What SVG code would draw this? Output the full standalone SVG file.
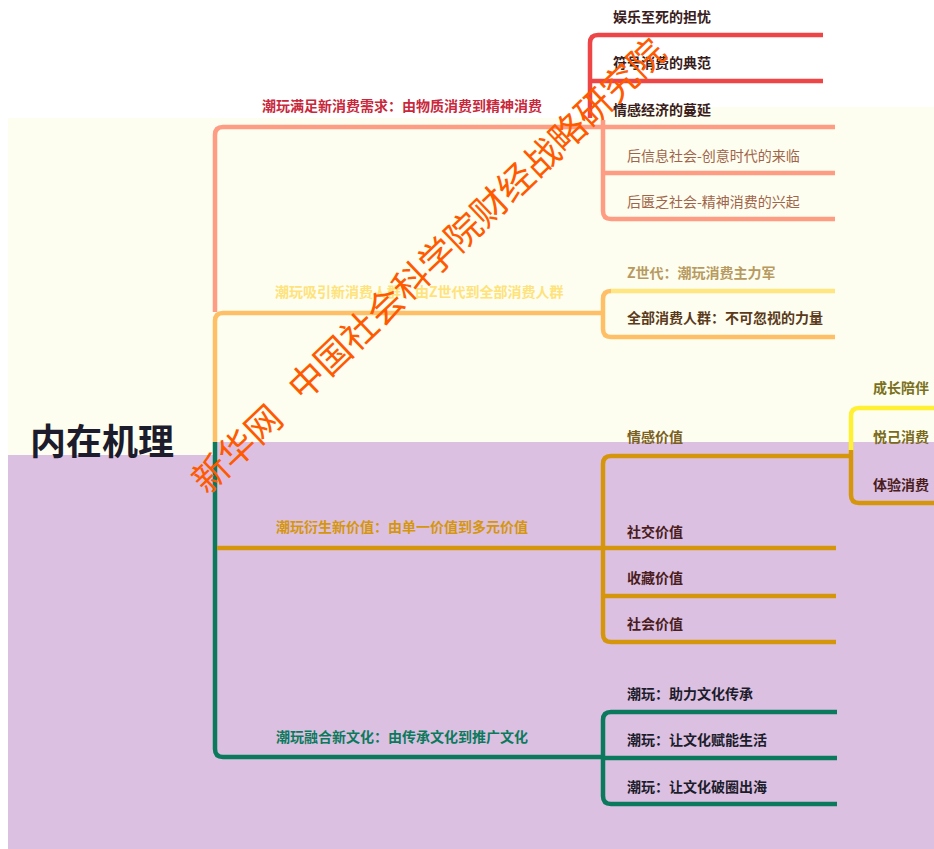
<svg xmlns="http://www.w3.org/2000/svg" width="934" height="849" viewBox="0 0 934 849">
<style>
text{font-family:"Noto Sans CJK SC","Noto Sans",sans-serif;}
.t{font-size:14px;font-weight:bold;}
.main{font-size:14px;font-weight:bold;}
.ln{fill:none;stroke-width:4.5;stroke-linecap:butt;stroke-linejoin:round;}
.wm{font-size:36px;fill:#ff5a00;}
</style>
<rect x="0" y="0" width="934" height="849" fill="#ffffff"/>
<rect x="8" y="118" width="926" height="337" fill="#fdfeef"/>
<rect x="600" y="107" width="334" height="12" fill="#fdfeef"/>
<rect x="8" y="455" width="207" height="394" fill="#dbc0e2"/>
<rect x="213" y="442" width="721" height="407" fill="#dbc0e2"/>
<g id="connectors">
<path class="ln" stroke="#ee4646" d="M590,118 V43 Q590,35 598,35 H823 M590,81 H823"/>
<path class="ln" stroke="#ff9c84" d="M215,312 V135 Q215,127 223,127 H835"/>
<path class="ln" stroke="#ff9c84" d="M603,120 V211 Q603,219 611,219 H835 M603,173 H835"/>
<path class="ln" stroke="#ffbf66" d="M215,442 V321 Q215,313 223,313 H603"/>
<path class="ln" stroke="#ffbf66" d="M611,291 Q603,291 603,299 V329 Q603,337 611,337 H835"/>
<path class="ln" stroke="#ffe680" d="M611,291 H835"/>
<path class="ln" stroke="#0b7a5c" d="M215,442 V749 Q215,757 223,757 H603"/>
<path class="ln" stroke="#0b7a5c" d="M837,712 H611 Q603,712 603,720 V796 Q603,804 611,804 H837 M603,758 H837"/>
<path class="ln" stroke="#d6960c" d="M217,548 H836"/>
<path class="ln" stroke="#d6960c" d="M851,456 H611 Q603,456 603,464 V634 Q603,642 611,642 H836 M603,596 H836"/>
<path class="ln" stroke="#fff033" d="M934,408 H859 Q851,408 851,416 V452"/>
<path class="ln" stroke="#d6960c" d="M851,450 V495 Q851,503 859,503 H934"/>
</g>
<g id="root"><text x="30" y="455" font-size="36" font-weight="bold" fill="#1c1c2c">内在机理</text></g>
<g id="b1"><text class="main" x="262" y="111" fill="#c8283c">潮玩满足新消费需求：由物质消费到精神消费</text></g>
<g id="b1c1"><text class="t" x="613" y="22" fill="#3a1c1c">娱乐至死的担忧</text></g>
<g id="b1c2"><text class="t" x="613" y="68" fill="#3a1c1c">符号消费的典范</text></g>
<g id="b1c3"><text class="t" x="613" y="115" fill="#3a1c1c">情感经济的蔓延</text></g>
<g id="b1c4"><text x="627" y="161" font-size="14" fill="#a0644a">后信息社会-创意时代的来临</text></g>
<g id="b1c5"><text x="627" y="207" font-size="14" fill="#a0644a">后匮乏社会-精神消费的兴起</text></g>
<g id="b2"><text class="main" x="275" y="297" fill="#ffe27a">潮玩吸引新消费人群：由Z世代到全部消费人群</text></g>
<g id="b2c1"><text x="627" y="278" font-size="14" font-weight="bold" fill="#b89a60">Z世代：潮玩消费主力军</text></g>
<g id="b2c2"><text class="t" x="627" y="323" fill="#5a3a1a">全部消费人群：不可忽视的力量</text></g>
<g id="b3"><text class="main" x="276" y="532" fill="#d6960c">潮玩衍生新价值：由单一价值到多元价值</text></g>
<g id="b3c1"><text class="t" x="627" y="442" fill="#7a6020">情感价值</text></g>
<g id="b3c1a"><text class="t" x="873" y="393" fill="#7a7020">成长陪伴</text></g>
<g id="b3c1b"><text class="t" x="873" y="442" fill="#7a6a20">悦己消费</text></g>
<g id="b3c1c"><text class="t" x="873" y="490" fill="#4a1c1c">体验消费</text></g>
<g id="b3c2"><text class="t" x="627" y="537" fill="#4a1c1c">社交价值</text></g>
<g id="b3c3"><text class="t" x="627" y="583" fill="#4a1c1c">收藏价值</text></g>
<g id="b3c4"><text class="t" x="627" y="629" fill="#4a1c1c">社会价值</text></g>
<g id="b4"><text class="main" x="276" y="742" fill="#0b7a5c">潮玩融合新文化：由传承文化到推广文化</text></g>
<g id="b4c1"><text class="t" x="627" y="699" fill="#1c1c2a">潮玩：助力文化传承</text></g>
<g id="b4c2"><text class="t" x="627" y="745" fill="#1c1c2a">潮玩：让文化赋能生活</text></g>
<g id="b4c3"><text class="t" x="627" y="792" fill="#1c1c2a">潮玩：让文化破圈出海</text></g>
<g id="watermark">
<text class="wm" dominant-baseline="central" transform="translate(196,484) rotate(-43.6)">新华网</text>
<text class="wm" dominant-baseline="central" transform="translate(292,391) rotate(-43.6)">中国社会科学院财经战略研究院</text>
</g>
</svg>
